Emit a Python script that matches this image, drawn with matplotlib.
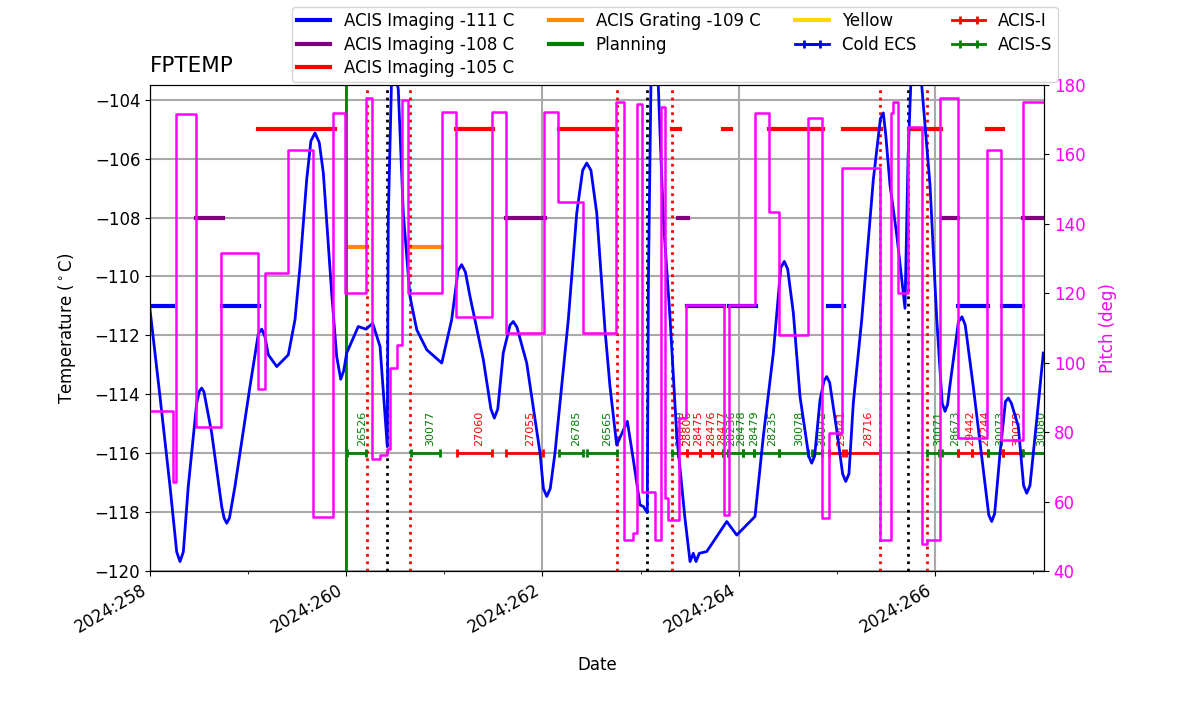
import numpy as np
import matplotlib
matplotlib.use("Agg")
import matplotlib.pyplot as plt
from matplotlib.lines import Line2D

plt.rcParams['font.size'] = 12

# ---------------- data (day of year 2024) ----------------
temp_day = [258.000, 258.102, 258.204, 258.272, 258.306, 258.340, 258.390, 258.476, 258.503, 258.527,
            258.550, 258.629, 258.731, 258.755, 258.782, 258.810, 258.866, 259.019, 259.104, 259.139,
            259.172, 259.206, 259.292, 259.410, 259.478, 259.529, 259.597, 259.640, 259.682, 259.725,
            259.767, 259.852, 259.903, 259.944, 259.975, 260.005, 260.123, 260.202, 260.270, 260.345,
            260.419, 260.429, 260.463, 260.487, 260.531, 260.582, 260.650, 260.719, 260.821, 260.974,
            261.075, 261.140, 261.177, 261.215, 261.262, 261.398, 261.475, 261.510, 261.545, 261.601,
            261.670, 261.703, 261.740, 261.840, 261.976, 262.010, 262.044, 262.080, 262.128, 262.264,
            262.350, 262.410, 262.452, 262.495, 262.554, 262.638, 262.689, 262.757, 262.866, 262.927,
            262.995, 263.029, 263.069, 263.081, 263.107, 263.138, 263.181, 263.232, 263.301, 263.369,
            263.453, 263.505, 263.538, 263.566, 263.599, 263.675, 263.879, 263.981, 264.167, 264.252,
            264.354, 264.430, 264.466, 264.500, 264.558, 264.626, 264.715, 264.745, 264.775, 264.830,
            264.870, 264.898, 264.928, 265.000, 265.060, 265.092, 265.125, 265.169, 265.255, 265.373,
            265.445, 265.475, 265.500, 265.543, 265.612, 265.696, 265.727, 265.757, 265.798, 265.866,
            265.951, 266.019, 266.075, 266.104, 266.130, 266.155, 266.240, 266.277, 266.310, 266.392,
            266.494, 266.550, 266.580, 266.610, 266.665, 266.720, 266.749, 266.780, 266.851, 266.905,
            266.937, 266.970, 267.039, 267.106]
temp_val = [-111.13, -114.08, -117.13, -119.35, -119.68, -119.35, -117.13, -114.30, -113.90, -113.79,
            -113.92, -115.32, -117.81, -118.20, -118.38, -118.20, -117.13, -113.74, -111.95, -111.79,
            -112.05, -112.66, -113.06, -112.66, -111.47, -109.66, -106.72, -105.40, -105.13, -105.45,
            -106.49, -110.57, -112.72, -113.49, -113.20, -112.60, -111.70, -111.79, -111.59, -112.38,
            -115.78, -108.00, -103.20, -102.70, -103.66, -107.85, -110.68, -111.81, -112.49, -112.94,
            -111.47, -109.80, -109.60, -109.85, -110.68, -112.83, -114.50, -114.81, -114.50, -112.60,
            -111.65, -111.53, -111.72, -112.94, -116.00, -117.20, -117.47, -117.20, -116.00, -111.47,
            -107.85, -106.40, -106.15, -106.40, -107.85, -111.81, -113.74, -115.72, -114.92, -116.23,
            -117.76, -117.81, -118.02, -110.00, -103.30, -102.60, -103.50, -108.02, -111.41, -115.38,
            -118.21, -119.68, -119.40, -119.68, -119.40, -119.34, -118.32, -118.78, -118.15, -115.43,
            -112.60, -109.70, -109.49, -109.75, -111.24, -114.08, -116.10, -116.34, -116.10, -114.19,
            -113.55, -113.40, -113.60, -115.21, -116.70, -116.96, -116.70, -114.30, -111.47, -106.72,
            -104.65, -104.45, -105.20, -106.89, -108.59, -111.08, -106.00, -103.30, -102.60, -103.50,
            -106.89, -111.41, -114.30, -114.58, -114.35, -113.68, -111.55, -111.37, -111.65, -113.74,
            -116.57, -118.10, -118.32, -118.05, -116.00, -114.25, -114.13, -114.30, -115.09, -117.10,
            -117.36, -117.10, -114.87, -112.60]

pitch_day = [258.000, 258.231, 258.262, 258.466, 258.724, 259.104, 259.172, 259.404, 259.665, 259.869,
             259.988, 260.202, 260.260, 260.345, 260.419, 260.446, 260.515, 260.566, 260.633, 260.974,
             261.119, 261.483, 261.629, 262.019, 262.162, 262.417, 262.750, 262.832, 262.927, 262.961,
             263.012, 263.148, 263.209, 263.250, 263.283, 263.392, 263.464, 263.854, 263.902, 264.167,
             264.313, 264.415, 264.710, 264.847, 264.924, 265.051, 265.446, 265.551, 265.577, 265.628,
             265.730, 265.866, 265.917, 266.053, 266.234, 266.529, 266.675, 266.902, 267.113]
pitch_val = [86.0, 65.7, 171.6, 81.6, 131.7, 92.3, 125.7, 161.3, 55.6, 171.8,
             120.2, 176.2, 72.4, 73.4, 75.0, 98.4, 105.1, 175.7, 120.0, 172.1,
             113.1, 172.1, 108.6, 172.1, 146.4, 108.5, 175.2, 48.9, 50.8, 174.4,
             62.8, 48.9, 173.7, 60.9, 54.7, 84.0, 116.6, 56.1, 116.6, 171.8,
             143.5, 108.0, 170.4, 55.2, 79.7, 156.0, 48.9, 171.8, 175.2, 120.0,
             168.0, 47.7, 48.9, 176.2, 78.2, 161.3, 77.7, 175.0, 175.0]

# planning limit segments (start, stop)
lim111_start = [258.000, 258.731, 263.471, 263.905, 264.914, 266.240, 266.682]
lim111_stop = [258.238, 259.114, 263.854, 264.174, 265.074, 266.545, 266.902]
lim108_start = [258.469, 261.629, 263.385, 266.070, 266.902]
lim108_stop = [258.741, 262.027, 263.481, 266.240, 267.113]
lim105_start = [259.098, 261.119, 262.172, 263.318, 263.844, 264.313, 265.061, 265.740, 266.535]
lim105_stop = [259.886, 261.493, 262.757, 263.403, 263.923, 264.857, 265.449, 266.060, 266.692]
lim109_start = [260.005, 260.650]
lim109_stop = [260.209, 260.974]

planning_day = [260.000]
red_event_day = [260.209, 260.655, 262.757, 263.316, 265.446, 265.923]
black_event_day = [260.419, 263.071, 265.722]

obsids = ['26526', '30077', '27060', '27055', '26785', '26565', '28879', '28806', '28475', '28476',
          '28477', '28236', '28478', '28479', '28235', '30078', '30072', '29441', '28716', '30071',
          '28673', '29442', '27244', '30073', '30079', '30080']
obs_inst = ['S', 'S', 'I', 'I', 'S', 'S', 'S', 'I', 'I', 'I',
            'I', 'S', 'S', 'S', 'S', 'S', 'S', 'I', 'I', 'S',
            'S', 'I', 'I', 'S', 'I', 'S']
obs_start = [260.012, 260.657, 261.132, 261.629, 262.172, 262.452, 263.318, 263.382, 263.471, 263.606,
             263.726, 263.844, 263.892, 264.048, 264.160, 264.415, 264.745, 264.924, 265.092, 265.916,
             266.070, 266.233, 266.382, 266.545, 266.692, 266.902]
obs_stop = [260.202, 260.956, 261.483, 262.009, 262.417, 262.757, 263.382, 263.471, 263.606, 263.726,
            263.844, 263.892, 264.048, 264.160, 264.415, 264.710, 264.853, 265.061, 265.446, 266.046,
            266.233, 266.382, 266.545, 266.692, 266.885, 267.174]

xticks = [258, 260, 262, 264, 266]
xticklabels = ['2024:258', '2024:260', '2024:262', '2024:264', '2024:266']

# ---------------- figure ----------------
fig = plt.figure(figsize=(12, 7.14), dpi=100)
ax = fig.add_axes([0.125, 0.2003, 0.745, 0.6807])
ax2 = ax.twinx()

ax.plot(temp_day, temp_val, color='blue', lw=2, zorder=4)

for s, e in zip(lim111_start, lim111_stop):
    ax.plot([s, e], [-111, -111], color='blue', lw=3)
for s, e in zip(lim108_start, lim108_stop):
    ax.plot([s, e], [-108, -108], color='purple', lw=3)
for s, e in zip(lim105_start, lim105_stop):
    ax.plot([s, e], [-105, -105], color='red', lw=3)
for s, e in zip(lim109_start, lim109_stop):
    ax.plot([s, e], [-109, -109], color='darkorange', lw=3)

for d in planning_day:
    ax.axvline(d, color='green', lw=2)
for d in red_event_day:
    ax.axvline(d, color='red', lw=2, ls=':')
for d in black_event_day:
    ax.axvline(d, color='black', lw=2, ls=':')

for name, inst, s, e in zip(obsids, obs_inst, obs_start, obs_stop):
    c = 'red' if inst == 'I' else 'green'
    mid = 0.5 * (s + e)
    ax.errorbar([mid], [-116], xerr=[[mid - s], [e - mid]], fmt='none', ecolor=c,
                elinewidth=2, capsize=3, capthick=2)
    ax.text(mid, -115.75, name, rotation=90, fontsize=8, color=c, ha='left', va='bottom',
            clip_on=True)

ax2.plot(pitch_day, pitch_val, drawstyle='steps-post', color='magenta', lw=1.8)

ax.set_xlim(258.0, 267.113)
ax.set_ylim(-120, -103.5)
ax2.set_ylim(40, 180)
ax.set_xticks(xticks)
ax.set_xticklabels(xticklabels, rotation=30, ha='right')
ax.set_xticks([259, 261, 263, 265, 267], minor=True)
ax.set_yticks(np.arange(-120, -103, 2))
ax.grid(True, color='darkgray', lw=1.5)
ax.set_xlabel('Date', labelpad=14)
ax.set_ylabel(r'Temperature ($^\circ$C)', labelpad=12)
ax2.set_ylabel('Pitch (deg)', color='magenta', labelpad=10)
ax2.tick_params(axis='y', labelcolor='magenta')
ax.set_title('FPTEMP', loc='left', fontsize=15.5, pad=9)

# legend
handles = [
    Line2D([], [], color='blue', lw=3, label='ACIS Imaging -111 C'),
    Line2D([], [], color='purple', lw=3, label='ACIS Imaging -108 C'),
    Line2D([], [], color='red', lw=3, label='ACIS Imaging -105 C'),
    Line2D([], [], color='darkorange', lw=3, label='ACIS Grating -109 C'),
    Line2D([], [], color='green', lw=3, label='Planning'),
    Line2D([], [], color='gold', lw=3, label='Yellow'),
]
for c, lab in [('blue', 'Cold ECS'), ('red', 'ACIS-I'), ('green', 'ACIS-S')]:
    eb = ax.errorbar([np.nan], [np.nan], xerr=[[np.nan], [np.nan]], fmt='-', color=c,
                     elinewidth=2, capsize=3, capthick=2, lw=2, label=lab)
    handles.append(eb)
fig.legend(handles=handles, ncol=4, loc='upper left', bbox_to_anchor=(292 / 1200, 1 - 7 / 714),
           borderaxespad=0, fontsize=12, labelspacing=0.33, borderpad=0.3, columnspacing=2.1)

fig.savefig('out.png', dpi=100)
